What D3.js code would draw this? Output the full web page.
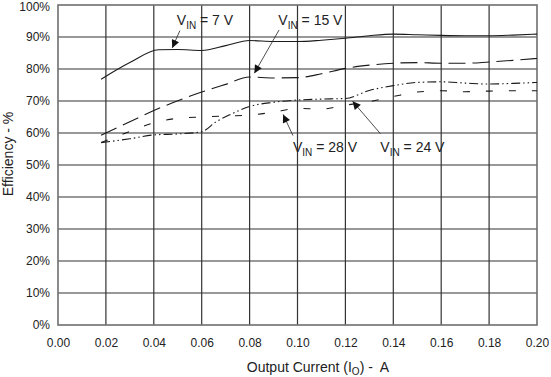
<!DOCTYPE html>
<html>
<head>
<meta charset="utf-8">
<script src="https://cdn.jsdelivr.net/npm/d3@7"></script>
<style>
  body { margin: 0; background: #fff; }
  text { font-family: "Liberation Sans", Arial, sans-serif; fill: #222; }
</style>
</head>
<body>
<div id="chart"></div>
<script>
// Efficiency vs output current, one curve per input voltage
var xTicks = [0, 0.02, 0.04, 0.06, 0.08, 0.10, 0.12, 0.14, 0.16, 0.18, 0.20];
var yTicks = [0, 10, 20, 30, 40, 50, 60, 70, 80, 90, 100];

var current7 = [0.018, 0.03, 0.042, 0.05, 0.06, 0.07, 0.08, 0.09, 0.10, 0.11, 0.12, 0.13, 0.14, 0.15, 0.16, 0.17, 0.18, 0.19, 0.20];
var eff7 = [76.8, 82, 86, 86.1, 85.8, 87.3, 88.9, 88.6, 88.6, 89, 89.6, 90.4, 90.9, 90.7, 90.5, 90.4, 90.4, 90.6, 90.9];

var current15 = [0.018, 0.03, 0.04, 0.06, 0.07, 0.08, 0.09, 0.10, 0.11, 0.12, 0.13, 0.14, 0.15, 0.16, 0.17, 0.18, 0.19, 0.20];
var eff15 = [59.3, 63.5, 67, 72.8, 75.2, 77.5, 77.2, 77.3, 78.5, 80.2, 81.2, 81.8, 82, 81.8, 81.8, 82.2, 82.7, 83.3];

var current24 = [0.018, 0.03, 0.04, 0.05, 0.06, 0.066, 0.072, 0.08, 0.09, 0.10, 0.11, 0.12, 0.13, 0.14, 0.15, 0.16, 0.17, 0.18, 0.19, 0.20];
var eff24 = [57, 58.2, 59.4, 59.7, 60.4, 63.5, 65.8, 68.3, 69.6, 70.3, 70.6, 70.8, 73.3, 74.8, 75.8, 76, 75.6, 75.3, 75.5, 75.8];

var current28 = [0.018, 0.03, 0.04, 0.05, 0.06, 0.07, 0.08, 0.09, 0.10, 0.11, 0.12, 0.13, 0.14, 0.15, 0.16, 0.17, 0.18, 0.19, 0.20];
var eff28 = [57, 60.5, 63.2, 64.6, 65, 65.3, 65.6, 66.5, 67.7, 67.5, 68.7, 69.8, 71.4, 72.8, 73.2, 72.9, 73.1, 73.2, 73.2];

// label text, label baseline (data coords), arrow start and tip (data coords)
var labelNames = ["7", "15", "28", "24"];
var labelPos = [[0.0496, 93.6], [0.0920, 93.6], [0.0981, 54.1], [0.1346, 54.1]];
var arrowFrom = [[0.0509, 92.0], [0.0923, 92.2], [0.0981, 59.2], [0.1346, 59.8]];
var arrowTo = [[0.0477, 86.6], [0.0820, 78.7], [0.0940, 65.8], [0.1230, 69.9]];

var margin = { top: 5, right: 14, bottom: 52, left: 58 },
    width = 551 - margin.left - margin.right,
    height = 377 - margin.top - margin.bottom;

var svg = d3.select("#chart").append("svg")
    .attr("width", 551)
    .attr("height", 377);

var g = svg.append("g")
    .attr("transform", "translate(" + margin.left + "," + margin.top + ")");

var x = d3.scaleLinear().domain([0, 0.2]).range([0, width]);
var y = d3.scaleLinear().domain([0, 100]).range([height, 0]);

// grid
g.append("g").selectAll("line")
    .data(xTicks.slice(1, -1))
    .enter().append("line")
    .attr("x1", d => x(d)).attr("x2", d => x(d))
    .attr("y1", 0).attr("y2", height)
    .attr("stroke", "#333").attr("stroke-width", 1.2);

g.append("g").selectAll("line")
    .data(yTicks.slice(1, -1))
    .enter().append("line")
    .attr("x1", 0).attr("x2", width)
    .attr("y1", d => y(d)).attr("y2", d => y(d))
    .attr("stroke", "#333").attr("stroke-width", 1.2);

g.append("rect")
    .attr("width", width).attr("height", height)
    .attr("fill", "none").attr("stroke", "#6e6e6e").attr("stroke-width", 1.6);

// tick labels
var xAxis = d3.axisBottom(x).tickValues(xTicks).tickSize(0).tickPadding(13)
    .tickFormat(d3.format(".2f"));
g.append("g").attr("transform", "translate(0," + height + ")").call(xAxis)
    .call(a => a.select(".domain").remove())
    .selectAll("text").style("font-size", "12px").style("font-family", null);

var yAxis = d3.axisLeft(y).tickValues(yTicks).tickSize(0).tickPadding(8)
    .tickFormat(d => d + "%");
g.append("g").call(yAxis)
    .call(a => a.select(".domain").remove())
    .selectAll("text").style("font-size", "12px").style("font-family", null)
    .filter(d => d === 100).attr("dy", "0.42em");

// axis titles
var xt = svg.append("text")
    .attr("x", 318).attr("y", 372)
    .attr("text-anchor", "middle").style("font-size", "14px")
    .style("white-space", "pre");
xt.append("tspan").text("Output Current (I");
xt.append("tspan").attr("dy", 3).style("font-size", "10px").text("O");
xt.append("tspan").attr("dy", -3).text(") -  A");

svg.append("text")
    .attr("transform", "translate(13,154) rotate(-90)")
    .attr("text-anchor", "middle").style("font-size", "14px")
    .text("Efficiency - %");

// curves
var line = d3.line()
    .x(d => x(d[0]))
    .y(d => y(d[1]))
    .curve(d3.curveMonotoneX);

var series = [
    { xs: current7, ys: eff7, dash: null },
    { xs: current15, ys: eff15, dash: "17,7" },
    { xs: current24, ys: eff24, dash: "9,3,1.5,3,1.5,3" },
    { xs: current28, ys: eff28, dash: "7,16" }
];

g.append("g").selectAll("path")
    .data(series)
    .enter().append("path")
    .attr("d", d => line(d3.zip(d.xs, d.ys)))
    .attr("fill", "none")
    .attr("stroke", "#1a1a1a")
    .attr("stroke-width", 1.1)
    .attr("stroke-dasharray", d => d.dash);

// arrows
svg.append("defs").append("marker")
    .attr("id", "head")
    .attr("viewBox", "0 0 10 10")
    .attr("refX", 10).attr("refY", 5)
    .attr("markerWidth", 10).attr("markerHeight", 8)
    .attr("markerUnits", "userSpaceOnUse")
    .attr("orient", "auto")
    .append("path").attr("d", "M0,0L10,5L0,10Z").attr("fill", "#111");

g.append("g").selectAll("line")
    .data(d3.range(labelNames.length))
    .enter().append("line")
    .attr("x1", i => x(arrowFrom[i][0])).attr("y1", i => y(arrowFrom[i][1]))
    .attr("x2", i => x(arrowTo[i][0])).attr("y2", i => y(arrowTo[i][1]))
    .attr("stroke", "#222").attr("stroke-width", 0.8)
    .attr("marker-end", "url(#head)");

// labels with subscript
var labels = g.append("g").selectAll("text")
    .data(d3.range(labelNames.length))
    .enter().append("text")
    .attr("x", i => x(labelPos[i][0]))
    .attr("y", i => y(labelPos[i][1]))
    .style("font-size", "14px");
labels.append("tspan").text("V");
labels.append("tspan").attr("dy", 4).style("font-size", "10px").text("IN");
labels.append("tspan").attr("dy", -4).text(i => " = " + labelNames[i] + " V");
</script>
</body>
</html>
